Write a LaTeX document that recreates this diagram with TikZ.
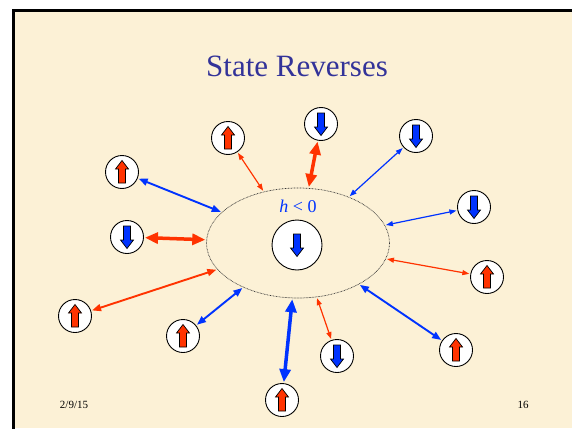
\documentclass[tikz,border=0pt]{standalone}
\usepackage{fontspec}
\setmainfont{Liberation Serif}
\usetikzlibrary{arrows.meta, positioning, shapes.geometric}
\definecolor{slidebg}{RGB}{252,241,214}
\definecolor{titleblue}{RGB}{51,51,153}
\definecolor{spinred}{RGB}{255,51,0}
\definecolor{spinblue}{RGB}{0,51,255}

\tikzset{
  spin/.style={circle, draw, line width=0.9pt, fill=white, minimum size=33pt, inner sep=0pt},
  upspin/.style={spin, path picture={
      \draw[fill=spinred, line width=0.7pt, shift={(path picture bounding box.center)}]
        (-3.5,11) -- (3.5,11) -- (3.5,-3) -- (6.5,-3) -- (0,-11.5) -- (-6.5,-3) -- (-3.5,-3) -- cycle;}},
  downspin/.style={spin, path picture={
      \draw[fill=spinblue, line width=0.7pt, shift={(path picture bounding box.center)}]
        (-3.5,-11) -- (3.5,-11) -- (3.5,3) -- (6.5,3) -- (0,11.5) -- (-6.5,3) -- (-3.5,3) -- cycle;}},
  weak/.style={line width=1.2pt, {Triangle[length=7pt,width=5pt]}-{Triangle[length=7pt,width=5pt]}, shorten <=1pt, shorten >=1pt},
  medium/.style={line width=1.9pt, {Triangle[length=9pt,width=7pt]}-{Triangle[length=9pt,width=7pt]}, shorten <=1pt, shorten >=1pt},
  strong/.style={line width=3.5pt, {Triangle[length=13pt,width=11pt]}-{Triangle[length=13pt,width=11pt]}, shorten <=1pt, shorten >=1pt}
}

\begin{document}
\begin{tikzpicture}[x=1pt, y=-1pt]
  \useasboundingbox (0,0) rectangle (572,428);
  % slide background and frame
  \fill[white] (0,0) rectangle (572,428);
  \fill[slidebg] (13.5,11) rectangle (572,428);
  \draw[line width=3pt] (13.5,430) -- (13.5,11) -- (575,11);

  % title
  \node[text=titleblue, font=\fontsize{31}{36}\selectfont] (title) at (297,66) {State Reverses};

  % field region with central spin
  \node[ellipse, draw=black!80, dash pattern=on 0.7pt off 0.8pt, line width=0.7pt, minimum width=183pt, minimum height=110pt] (field) at (298,243) {};
  \node[text=spinblue, font=\fontsize{18}{20}\selectfont] (hlabel) at (298,206) {\textit{h} < 0};
  \node[downspin, minimum size=50pt] (center) at (297,245) {};

  % surrounding spins
  \node[upspin] (s1) at (122,172) {};
  \node[downspin] (s2) at (127,237) {};
  \node[upspin] (s3) at (75,316) {};
  \node[upspin] (s4) at (183,336) {};
  \node[upspin] (s5) at (282,400) {};
  \node[downspin] (s6) at (337,356) {};
  \node[upspin] (s7) at (456,350) {};
  \node[upspin] (s8) at (487,277) {};
  \node[downspin] (s9) at (474,207) {};
  \node[downspin] (s10) at (416,136) {};
  \node[downspin] (s11) at (321,124) {};
  \node[upspin] (s12) at (228,138) {};

  % couplings to the field region
  \draw[medium, spinblue] (s1) -- (field);
  \draw[strong, spinred] (s2) -- (field);
  \draw[medium, spinred] (s3) -- (field);
  \draw[medium, spinblue] (s4) -- (field);
  \draw[strong, spinblue] (s5) -- (field);
  \draw[weak, spinred] (s6) -- (field);
  \draw[medium, spinblue] (s7) -- (field);
  \draw[weak, spinred] (s8) -- (field);
  \draw[weak, spinblue] (s9) -- (field);
  \draw[weak, spinblue] (s10) -- (field);
  \draw[strong, spinred] (s11) -- (field);
  \draw[weak, spinred] (s12) -- (field);

  % footer
  \node[font=\fontsize{11}{13}\selectfont] (date) at (74,405) {2/9/15};
  \node[font=\fontsize{11}{13}\selectfont] (page) at (523,405) {16};
\end{tikzpicture}
\end{document}
